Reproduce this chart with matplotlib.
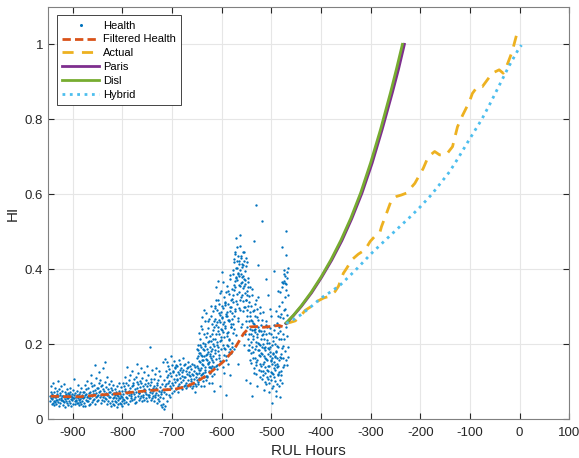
import numpy as np
import matplotlib
matplotlib.use('Agg')
import matplotlib.pyplot as plt

plt.rcParams['font.family'] = ['Liberation Sans', 'DejaVu Sans']
plt.rcParams['axes.unicode_minus'] = False

# health samples: one row per 4 h block, six readings spread through the block
health_t0, health_dt = -946, 4
health_y = [
    [.062, .048, .071, .055, .089, .041], [.053, .066, .044, .097, .058, .037],
    [.071, .049, .060, .083, .045, .052], [.058, .040, .067, .075, .051, .102],
    [.046, .061, .054, .036, .079, .065], [.069, .043, .057, .088, .050, .062],
    [.052, .074, .038, .061, .047, .093], [.060, .045, .071, .054, .033, .066],
    [.049, .064, .057, .081, .042, .070], [.056, .038, .068, .047, .063, .084],
    [.044, .072, .053, .061, .035, .058], [.067, .050, .041, .078, .056, .107],
    [.055, .063, .047, .039, .070, .052], [.048, .059, .074, .044, .065, .091],
    [.061, .042, .056, .068, .037, .050], [.053, .071, .045, .060, .082, .040],
    [.064, .049, .058, .036, .073, .055],
    [.058, .072, .044, .090, .063, .035], [.066, .051, .079, .047, .101, .060],
    [.049, .083, .062, .038, .070, .055], [.073, .056, .041, .095, .064, .118],
    [.061, .045, .087, .068, .052, .076], [.054, .092, .066, .040, .078, .143],
    [.070, .058, .109, .047, .083, .062], [.082, .063, .050, .125, .071, .096],
    [.059, .104, .076, .044, .088, .065], [.068, .052, .091, .137, .060, .079],
    [.075, .047, .063, .099, .056, .152], [.053, .086, .069, .041, .112, .064],
    [.064, .079, .048, .093, .058, .071], [.071, .043, .060, .084, .036, .102],
    [.049, .066, .077, .055, .090, .041], [.058, .038, .069, .047, .081, .063],
    [.046, .072, .055, .033, .064, .088], [.062, .050, .041, .075, .057, .096],
    [.055, .068, .044, .086, .039, .061], [.048, .074, .060, .035, .095, .053],
    [.067, .052, .089, .043, .112, .075], [.081, .058, .046, .097, .070, .138],
    [.055, .092, .073, .039, .064, .104], [.074, .048, .118, .083, .057, .066],
    [.062, .087, .050, .129, .071, .095], [.091, .066, .107, .054, .079, .043],
    [.058, .113, .072, .046, .099, .148], [.083, .061, .094, .122, .052, .070],
    [.069, .101, .055, .085, .137, .062], [.096, .074, .047, .110, .065, .088],
    [.060, .125, .081, .052, .093, .071], [.078, .056, .103, .067, .141, .049],
    [.087, .118, .064, .095, .058, .079], [.065, .091, .192, .073, .108, .052],
    [.099, .070, .056, .131, .084, .062], [.074, .107, .088, .048, .063, .119],
    [.058, .082, .136, .069, .095, .044], [.091, .065, .053, .104, .076, .127],
    [.049, .086, .115, .060, .038, .072], [.066, .032, .094, .078, .151, .055],
    [.041, .028, .072, .105, .160, .087], [.036, .094, .128, .066, .151, .112],
    [.079, .048, .117, .142, .096, .063], [.101, .134, .087, .058, .122, .167],
    [.115, .082, .143, .097, .069, .128], [.092, .126, .108, .154, .076, .139],
    [.136, .099, .081, .118, .145, .104], [.107, .142, .088, .125, .071, .158],
    [.121, .094, .132, .109, .147, .085], [.098, .137, .115, .079, .126, .162],
    [.131, .103, .089, .144, .112, .092], [.112, .146, .097, .128, .082, .135],
    [.088, .121, .139, .104, .151, .117], [.125, .093, .114, .141, .087, .106],
    [.102, .134, .082, .119, .148, .097], [.117, .089, .128, .106, .143, .072],
    [.094, .138, .111, .087, .123, .188],
    [.105, .142, .168, .093, .197, .122], [.131, .176, .214, .108, .152, .248],
    [.118, .193, .146, .272, .167, .101], [.157, .124, .226, .183, .089, .262],
    [.139, .201, .172, .115, .284, .158], [.186, .112, .243, .149, .207, .095],
    [.127, .268, .174, .221, .138, .301], [.164, .209, .096, .187, .253, .141],
    [.152, .237, .288, .121, .196, .074], [.268, .175, .213, .319, .142, .251],
    [.197, .292, .133, .245, .369, .182], [.226, .164, .307, .258, .088, .279],
    [.341, .211, .186, .273, .239, .392], [.254, .138, .296, .219, .327, .171],
    [.188, .312, .243, .157, .281, .063], [.275, .229, .356, .194, .308, .147],
    [.211, .334, .262, .118, .289, .385], [.298, .176, .247, .321, .203, .267],
    [.312, .254, .398, .187, .345, .427], [.368, .441, .289, .376, .224, .483],
    [.402, .335, .458, .271, .387, .146], [.383, .297, .421, .356, .492, .318],
    [.436, .362, .247, .405, .331, .378], [.349, .412, .288, .447, .197, .374],
    [.395, .226, .361, .318, .429, .104], [.276, .418, .343, .185, .302, .367],
    [.312, .228, .184, .274, .097, .353], [.206, .265, .149, .331, .239, .062],
    [.178, .289, .221, .137, .254, .475], [.241, .163, .308, .194, .571, .119],
    [.152, .226, .273, .088, .202, .327], [.265, .184, .131, .238, .169, .298],
    [.198, .142, .251, .214, .528, .106],
    [.173, .226, .129, .287, .152, .078], [.214, .138, .191, .098, .263, .375],
    [.161, .247, .112, .204, .142, .331], [.129, .186, .231, .073, .168, .295],
    [.192, .105, .154, .276, .123, .042], [.147, .218, .088, .173, .238, .395],
    [.113, .165, .201, .132, .061, .289], [.178, .094, .146, .256, .121, .342],
    [.141, .213, .087, .302, .165, .058], [.236, .118, .174, .281, .459, .095],
    [.352, .163, .271, .138, .397, .214], [.368, .294, .182, .381, .247, .502],
    [.345, .143, .376, .258, .191, .402],
]

# extra readings in the noisy stretch (-650 .. -470), same 4 h blocks
health2_t0 = -650
health2_y = [
    [.121, .163, .098, .185, .137, .229], [.154, .109, .198, .132, .176, .087],
    [.172, .136, .241, .119, .158, .204], [.143, .188, .112, .167, .292, .131],
    [.195, .126, .159, .218, .104, .173], [.116, .231, .147, .179, .262, .139],
    [.208, .151, .124, .193, .168, .276], [.137, .182, .226, .158, .115, .199],
    [.214, .169, .263, .138, .245, .302], [.183, .297, .226, .161, .352, .207],
    [.259, .143, .318, .236, .191, .284], [.172, .265, .208, .337, .154, .241],
    [.286, .219, .154, .302, .271, .198], [.233, .366, .189, .258, .124, .311],
    [.305, .248, .276, .167, .339, .222], [.197, .287, .341, .232, .265, .178],
    [.264, .213, .299, .375, .186, .247], [.318, .254, .192, .283, .347, .229],
    [.332, .387, .276, .418, .359, .241], [.294, .353, .447, .316, .402, .378],
    [.421, .372, .308, .389, .263, .436], [.357, .414, .339, .462, .292, .397],
    [.388, .325, .431, .366, .415, .254], [.316, .446, .381, .298, .355, .421],
    [.372, .298, .337, .408, .263, .319], [.245, .331, .292, .376, .214, .352],
    [.263, .197, .329, .241, .158, .286], [.228, .301, .176, .262, .347, .193],
    [.257, .164, .215, .292, .123, .238], [.187, .276, .232, .143, .318, .207],
    [.219, .158, .294, .183, .247, .411], [.172, .236, .201, .112, .283, .148],
    [.235, .176, .129, .265, .191, .224],
    [.146, .201, .118, .235, .168, .189], [.185, .123, .164, .226, .094, .251],
    [.132, .212, .157, .189, .107, .174], [.204, .141, .096, .178, .243, .116],
    [.157, .228, .125, .162, .083, .197], [.119, .176, .208, .137, .252, .153],
    [.168, .102, .143, .219, .181, .076], [.138, .194, .162, .117, .229, .275],
    [.192, .126, .247, .158, .338, .104], [.273, .162, .214, .127, .366, .189],
    [.312, .228, .364, .196, .291, .143], [.387, .325, .256, .362, .158, .437],
    [.361, .278, .392, .223, .331, .165],
]

filt_x = [-945, -920, -885, -850, -805, -770, -738, -697, -670, -650, -630, -615,
          -597, -576, -556, -543, -530, -515, -496, -485, -476, -469]
filt_y = [0.061, 0.060, 0.0595, 0.064, 0.068, 0.073, 0.077, 0.079, 0.087, 0.100, 0.117, 0.133,
          0.153, 0.184, 0.228, 0.246, 0.247, 0.245, 0.248, 0.25, 0.246, 0.258]

actual_x = [-470, -462, -452, -443, -432, -418, -405, -395, -385, -372, -365, -355, -348,
            -338, -325, -311, -301, -290, -281, -278, -268, -258, -248, -238, -228, -211,
            -194, -184, -171, -161, -148, -135, -125, -115, -101, -95, -85, -75, -65, -55,
            -41, -33, -25, -15, -5]
actual_y = [0.255, 0.258, 0.262, 0.272, 0.29, 0.302, 0.316, 0.323, 0.327, 0.34, 0.354, 0.389,
            0.403, 0.425, 0.44, 0.452, 0.474, 0.49, 0.50, 0.514, 0.549, 0.585, 0.594, 0.598,
            0.603, 0.629, 0.669, 0.70, 0.714, 0.705, 0.705, 0.727, 0.78, 0.81, 0.847, 0.869,
            0.887, 0.887, 0.905, 0.923, 0.932, 0.923, 0.945, 0.98, 1.03]

paris_x = [-470, -455, -439.5, -419, -399, -378.5, -358, -338, -317.5, -297, -277, -256.5,
           -244, -232]
paris_y = [0.255, 0.277, 0.301, 0.337, 0.378, 0.424, 0.476, 0.535, 0.603, 0.683, 0.772,
           0.87, 0.933, 1.0]

disl_x = [-470, -455, -440, -420, -400, -380, -360, -340, -320, -300, -280, -260, -248, -236]
disl_y = [0.257, 0.278, 0.302, 0.338, 0.379, 0.425, 0.477, 0.536, 0.604, 0.684, 0.773,
          0.871, 0.934, 1.0]

hybrid_x = [-470, -455, -441, -420, -401, -380, -361, -330, -300, -270, -241, -220, -201,
            -178, -160, -141, -122, -103, -90, -76, -60, -41, -22, -3, 4]
hybrid_y = [0.255, 0.266, 0.278, 0.300, 0.322, 0.340, 0.358, 0.398, 0.440, 0.478, 0.514,
            0.540, 0.565, 0.598, 0.628, 0.66, 0.70, 0.742, 0.77, 0.80, 0.84, 0.89, 0.94,
            0.985, 0.998]


def block_times(t0, rows, dt, shift):
    n, k = np.shape(rows)
    return (t0 + dt * np.arange(n))[:, None] + (np.arange(k) + shift) * dt / k


hx = np.concatenate([block_times(health_t0, health_y, health_dt, 0).ravel(),
                     block_times(health2_t0, health2_y, health_dt, 0.5).ravel()])
hy = np.concatenate([np.ravel(health_y), np.ravel(health2_y)])

fig = plt.figure(figsize=(5.79, 4.58), dpi=100)
ax = fig.add_axes([0.083, 0.085, 0.9, 0.9])

ax.plot(hx, hy, 'o', color='#0072BD', markersize=1.7, mew=0, label='Health')
ax.plot(filt_x, filt_y, color='#D95319', lw=2, dashes=(3, 1.5), label='Filtered Health')
ax.plot(actual_x, actual_y, color='#EDB120', lw=2, dashes=(4, 3), label='Actual')
ax.plot(paris_x, paris_y, color='#7E2F8E', lw=2, label='Paris')
ax.plot(disl_x, disl_y, color='#77AC30', lw=2, label='Disl')
ax.plot(hybrid_x, hybrid_y, color='#4DBEEE', lw=2, linestyle=':', label='Hybrid')

ax.set_xlim(-950, 100)
ax.set_ylim(0, 1.1)
ax.set_xticks(np.arange(-900, 101, 100))
ax.set_yticks(np.arange(0, 1.01, 0.2))
ax.set_yticklabels(['0', '0.2', '0.4', '0.6', '0.8', '1'])
ax.grid(True, color='#E6E6E6', lw=0.8)
ax.set_axisbelow(True)
ax.tick_params(direction='in', top=True, right=True, labelsize=9.5, colors='#262626', length=4)
ax.tick_params(axis='x', pad=6)
for s in ax.spines.values():
    s.set_color('#808080')
    s.set_linewidth(0.8)
ax.set_xlabel('RUL Hours', fontsize=11, color='#262626', labelpad=3)
ax.set_ylabel('HI', fontsize=11, color='#262626', labelpad=4)

leg = ax.legend(loc='upper left', bbox_to_anchor=(0.017, 0.98), borderaxespad=0, fontsize=8,
                handlelength=3.3, handletextpad=0.33, labelspacing=0.34, borderpad=0.5,
                fancybox=False, edgecolor='#262626', framealpha=1, markerscale=1.3)
leg.get_frame().set_linewidth(0.6)

fig.savefig('out.png', dpi=100)
